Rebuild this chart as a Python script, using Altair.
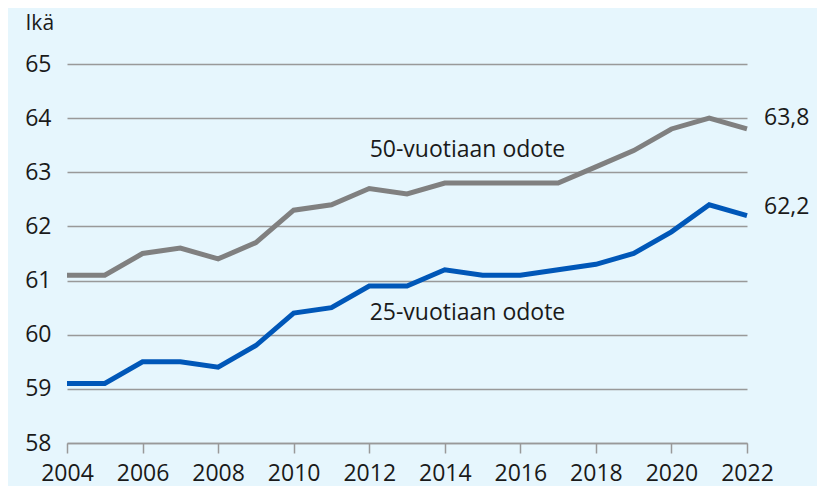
import altair as alt
import pandas as pd

years = list(range(2004, 2023))
age50 = [61.1, 61.1, 61.5, 61.6, 61.4, 61.7, 62.3, 62.4, 62.7, 62.6, 62.8, 62.8, 62.8, 62.8, 63.1, 63.4, 63.8, 64.0, 63.8]
age25 = [59.1, 59.1, 59.5, 59.5, 59.4, 59.8, 60.4, 60.5, 60.9, 60.9, 61.2, 61.1, 61.1, 61.2, 61.3, 61.5, 61.9, 62.4, 62.2]
series_names = ["50-vuotiaan odote", "25-vuotiaan odote"]
series_colors = ["#808080", "#0057B8"]

label_text = ["50-vuotiaan odote", "25-vuotiaan odote"]
label_x = [2014.6, 2014.6]
label_y = [63.41, 60.4]

end_text = ["63,8", "62,2"]
end_x = [2022, 2022]
end_y = [64.0, 62.35]

FONT = "Open Sans"
TXT = "#1a1a1a"
FS = 23

df = pd.DataFrame({
    "year": years * 2,
    "value": age50 + age25,
    "series": [series_names[0]] * len(years) + [series_names[1]] * len(years),
})
lab = pd.DataFrame({"x": label_x, "y": label_y, "t": label_text})
end = pd.DataFrame({"x": end_x, "y": end_y, "t": end_text})

xscale = alt.Scale(domain=[2004, 2022], nice=False, zero=False)
yscale = alt.Scale(domain=[58, 65], nice=False, zero=False)

lines = alt.Chart(df).mark_line(strokeWidth=5).encode(
    x=alt.X("year:Q", scale=xscale,
            axis=alt.Axis(values=years, title=None, grid=False, format="d",
                          labelExpr="datum.value % 2 == 0 ? datum.label : ''",
                          labelFont=FONT, labelFontSize=FS, labelColor=TXT,
                          labelPadding=9, tickSize=10, tickColor="#999999",
                          domainColor="#999999", tickWidth=1.5, domainWidth=1.5,
                          labelFlush=False, labelOverlap=False)),
    y=alt.Y("value:Q", scale=yscale,
            axis=alt.Axis(values=list(range(58, 66)), title="Ikä", titleAngle=0, format="d",
                          titleAlign="left", titleBaseline="middle", titleX=-42, titleY=-41,
                          titleFont=FONT, titleFontSize=21, titleFontWeight="normal", titleColor=TXT,
                          labelFont=FONT, labelFontSize=FS, labelColor=TXT, labelPadding=16,
                          ticks=False, domain=False, gridColor="#999999", gridWidth=1.5)),
    color=alt.Color("series:N", scale=alt.Scale(domain=series_names, range=series_colors), legend=None),
)

labels = alt.Chart(lab).mark_text(font=FONT, fontSize=FS, color=TXT, align="center", baseline="middle").encode(
    x=alt.X("x:Q", scale=xscale), y=alt.Y("y:Q", scale=yscale), text="t:N")

ends = alt.Chart(end).mark_text(font=FONT, fontSize=FS, color=TXT, align="left", baseline="middle", dx=17).encode(
    x=alt.X("x:Q", scale=xscale), y=alt.Y("y:Q", scale=yscale), text="t:N")

chart = alt.layer(lines, labels, ends).properties(
    width=680, height=379, background="#E6F6FD",
    padding={"left": 59, "top": 56, "right": 70, "bottom": 43},
    autosize=alt.AutoSizeParams(type="none"),
).configure_view(stroke=None)

chart.save("out.html", embed_options={"renderer": "svg", "actions": False})
